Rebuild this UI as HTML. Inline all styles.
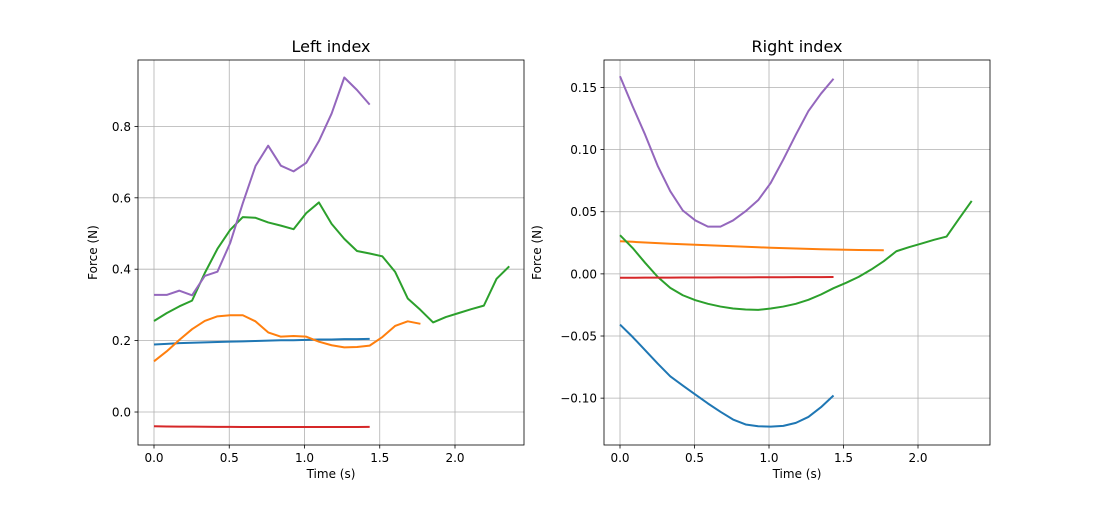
<!DOCTYPE html>
<html><head><meta charset="utf-8"><style>
body{margin:0;background:#fff}
svg text{font-family:"DejaVu Sans","Liberation Sans",sans-serif;fill:#000}
</style></head><body>
<svg id="fig" width="1100" height="500" xmlns="http://www.w3.org/2000/svg"></svg>
<script>
const dt = 0.0843;
const leftPurple=[0.328,0.328,0.340,0.327,0.381,0.393,0.473,0.585,0.689,0.746,0.690,0.674,0.698,0.759,0.836,0.937,0.902,0.861];
const leftGreen=[0.255,0.277,0.296,0.312,0.389,0.457,0.510,0.546,0.544,0.531,0.522,0.512,0.557,0.587,0.527,0.485,0.451,0.444,0.436,0.393,0.318,0.286,0.251,0.266,0.277,0.288,0.298,0.373,0.408];
const leftOrange=[0.142,0.170,0.202,0.232,0.255,0.268,0.271,0.271,0.254,0.223,0.211,0.213,0.211,0.197,0.187,0.181,0.182,0.186,0.210,0.241,0.254,0.247];
const leftBlue=[0.189,0.191,0.193,0.194,0.195,0.196,0.197,0.198,0.199,0.200,0.201,0.201,0.202,0.203,0.203,0.204,0.204,0.205];
const leftRed=[-0.040,-0.0405,-0.041,-0.041,-0.0413,-0.0415,-0.0417,-0.0418,-0.0418,-0.0418,-0.0419,-0.0419,-0.0419,-0.0419,-0.0418,-0.0418,-0.0418,-0.0417];
const rightPurple=[0.159,0.135,0.112,0.087,0.0665,0.051,0.043,0.038,0.038,0.043,0.0504,0.0593,0.0732,0.092,0.112,0.131,0.145,0.157];
const rightGreen=[0.0311,0.0209,0.0089,-0.0024,-0.0113,-0.0172,-0.0212,-0.0241,-0.0263,-0.0279,-0.0287,-0.029,-0.0279,-0.0263,-0.0241,-0.0209,-0.0166,-0.0115,-0.0072,-0.0024,0.0035,0.0102,0.0182,0.0215,0.0244,0.0274,0.030,0.0445,0.0587];
const rightOrange=[0.0263,0.0258,0.0252,0.0247,0.0242,0.0238,0.0234,0.0230,0.0226,0.0222,0.0218,0.0214,0.0210,0.0207,0.0204,0.0201,0.0198,0.0196,0.0194,0.0192,0.0191,0.0190];
const rightBlue=[-0.0408,-0.0507,-0.0614,-0.0722,-0.0824,-0.0899,-0.0971,-0.1043,-0.111,-0.1172,-0.1212,-0.1226,-0.1229,-0.1223,-0.1199,-0.1151,-0.1073,-0.0979];
const rightRed=[-0.0031,-0.0031,-0.0030,-0.0030,-0.0030,-0.0029,-0.0029,-0.0029,-0.0028,-0.0028,-0.0028,-0.0027,-0.0027,-0.0027,-0.0026,-0.0026,-0.0026,-0.0025];
const xTicks=[0,0.5,1.0,1.5,2.0];
const xTickLabels=["0.0","0.5","1.0","1.5","2.0"];
const leftYTicks=[0,0.2,0.4,0.6,0.8];
const leftYLabels=["0.0","0.2","0.4","0.6","0.8"];
const rightYTicks=[-0.10,-0.05,0,0.05,0.10,0.15];
const rightYLabels=["−0.10","−0.05","0.00","0.05","0.10","0.15"];
const C={blue:"#1f77b4",orange:"#ff7f0e",green:"#2ca02c",red:"#d62728",purple:"#9467bd"};
const NS="http://www.w3.org/2000/svg";
const svg=document.getElementById('fig');
function mk(tag,attrs,parent){const e=document.createElementNS(NS,tag);for(const k in attrs)e.setAttribute(k,attrs[k]);(parent||svg).appendChild(e);return e;}
function panel(cfg){
  const {x0,x1,y0,y1,xmin,xmax,ymin,ymax,title,yticks,ylabels,series,name,ylabX}=cfg;
  const sx=v=>x0+(v-xmin)/(xmax-xmin)*(x1-x0);
  const sy=v=>y1-(v-ymin)/(ymax-ymin)*(y1-y0);
  const g=mk('g',{});
  
  
  xTicks.forEach((t,i)=>{
    const X=sx(t);
    const gl=mk('line',{x1:X,x2:X,y1:y0,y2:y1,stroke:'#b0b0b0','stroke-width':0.8},g);
    
    
    mk('line',{x1:X,x2:X,y1:y1,y2:y1+3.5,stroke:'#000','stroke-width':0.8},g);
    const tx=mk('text',{x:X,y:y1+17,'font-size':12,'text-anchor':'middle'},g);
    tx.textContent=xTickLabels[i];
    
    
  });
  yticks.forEach((t,i)=>{
    const Y=sy(t);
    const gl=mk('line',{x1:x0,x2:x1,y1:Y,y2:Y,stroke:'#b0b0b0','stroke-width':0.8},g);
    
    
    mk('line',{x1:x0-3.5,x2:x0,y1:Y,y2:Y,stroke:'#000','stroke-width':0.8},g);
    const tx=mk('text',{x:x0-7,y:Y+4.5,'font-size':12,'text-anchor':'end'},g);
    tx.textContent=ylabels[i];
    
    
  });
  series.forEach(s=>{
    const pts=s.data.map((v,i)=>sx(i*dt).toFixed(2)+','+sy(v).toFixed(2)).join(' ');
    const pl=mk('polyline',{points:pts,fill:'none',stroke:s.color,'stroke-width':2,'stroke-linejoin':'round'},g);
    
    
  });
  const fr=mk('rect',{x:x0,y:y0,width:x1-x0,height:y1-y0,fill:'none',stroke:'#000','stroke-width':0.8},g);
  
  
  const tt=mk('text',{x:(x0+x1)/2,y:y0-8,'font-size':16,'text-anchor':'middle'},g);
  tt.textContent=title;
  
  
  const xl=mk('text',{x:(x0+x1)/2,y:y1+33,'font-size':12,'text-anchor':'middle'},g);
  xl.textContent='Time (s)';
  
  
  const yl=mk('text',{x:ylabX,y:(y0+y1)/2,'font-size':12,'text-anchor':'middle',transform:`rotate(-90 ${ylabX} ${(y0+y1)/2})`},g);
  yl.textContent='Force (N)';
  
  
}
panel({name:'left-index-chart',x0:138,x1:524,y0:60,y1:445,xmin:-0.1063,xmax:2.4585,ymin:-0.0924,ymax:0.986,
  title:'Left index',yticks:leftYTicks,ylabels:leftYLabels,ylabX:97,
  series:[{name:'series-blue',data:leftBlue,color:C.blue},{name:'series-orange',data:leftOrange,color:C.orange},{name:'series-green',data:leftGreen,color:C.green},{name:'series-red',data:leftRed,color:C.red},{name:'series-purple',data:leftPurple,color:C.purple}]});
panel({name:'right-index-chart',x0:604,x1:990,y0:60,y1:445,xmin:-0.1074,xmax:2.4832,ymin:-0.1377,ymax:0.1721,
  title:'Right index',yticks:rightYTicks,ylabels:rightYLabels,ylabX:541,
  series:[{name:'series-blue',data:rightBlue,color:C.blue},{name:'series-orange',data:rightOrange,color:C.orange},{name:'series-green',data:rightGreen,color:C.green},{name:'series-red',data:rightRed,color:C.red},{name:'series-purple',data:rightPurple,color:C.purple}]});
</script>
</body></html>
